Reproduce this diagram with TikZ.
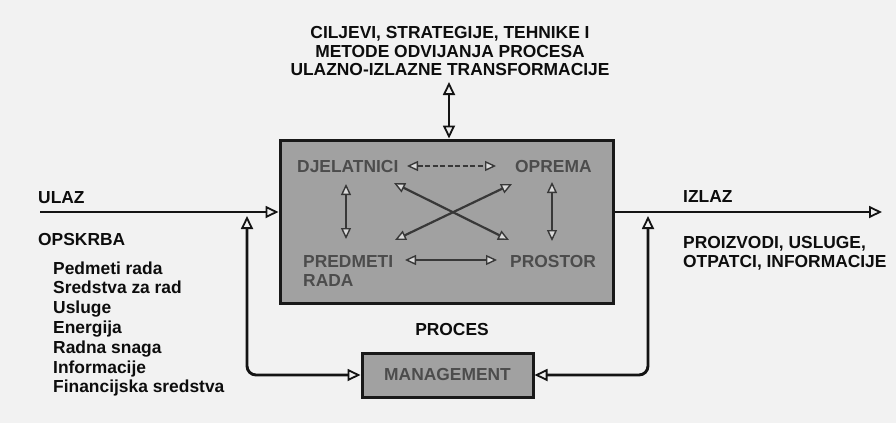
\documentclass[tikz,border=0pt]{standalone}
\usepackage{fontspec}
\setmainfont{Liberation Sans}
\usetikzlibrary{arrows.meta}
\begin{document}
\begin{tikzpicture}[x=1pt,y=-1pt,
  txt/.style={font=\fontsize{17.4}{19}\selectfont\bfseries, inner sep=0pt, text=black!95},
  intxt/.style={txt, text=black!70},
  boxst/.style={draw=black!90, line width=3pt, fill=gray!74},
  flow/.style={line width=2.9pt, draw=black!92, >={Triangle[length=13pt,width=12pt,fill=gray!12,line width=1.8pt]}},
  inflow/.style={line width=2.2pt, draw=black!78, >={Triangle[length=11pt,width=10pt,fill=gray!30,line width=1.4pt]}}
]
\useasboundingbox (0,0) rectangle (896,423);
\fill[gray!10] (0,0) rectangle (896,423);

% boxes
\node[boxst, minimum width=333pt, minimum height=163pt, inner sep=0pt] (proc) at (446.5,221.5) {};
\node[boxst, minimum width=171pt, minimum height=44pt, inner sep=0pt, intxt] (mgmt) at (447.5,375) {MANAGEMENT};

% top text
\node[txt, anchor=base] (t1) at (450,38) {CILJEVI, STRATEGIJE, TEHNIKE I};
\node[txt, anchor=base] (t2) at (450,57) {METODE ODVIJANJA PROCESA};
\node[txt, anchor=base] (t3) at (450,75) {ULAZNO-IZLAZNE TRANSFORMACIJE};

% left texts
\node[txt, anchor=base west] (ulaz) at (38,203) {ULAZ};
\node[txt, anchor=base west] (opskrba) at (38,245) {OPSKRBA};
\foreach \t [count=\i from 0] in {Pedmeti rada, Sredstva za rad, Usluge, Energija, Radna snaga, Informacije, Financijska sredstva}
  \node[txt, anchor=base west] (item\i) at (53,274+19.8*\i) {\t};

% right texts
\node[txt, anchor=base west] (izlaz) at (683,202) {IZLAZ};
\node[txt, anchor=base west] (out1) at (683,248) {PROIZVODI, USLUGE,};
\node[txt, anchor=base west] (out2) at (683,267) {OTPATCI, INFORMACIJE};
\node[txt, anchor=base] (proces) at (452,335) {PROCES};

% inner texts
\node[intxt, anchor=base west] (djel) at (297,172) {DJELATNICI};
\node[intxt, anchor=base west] (oprema) at (515,172) {OPREMA};
\node[intxt, anchor=base west] (pred) at (303,267) {PREDMETI};
\node[intxt, anchor=base west] (rada) at (303,286) {RADA};
\node[intxt, anchor=base west] (prostor) at (510,267) {PROSTOR};

% inner arrows
\coordinate (a1) at (407,166); \coordinate (a2) at (496,166);
\coordinate (b1) at (405,260); \coordinate (b2) at (497,260);
\coordinate (c1) at (346,184); \coordinate (c2) at (346,239);
\coordinate (d1) at (552,182); \coordinate (d2) at (552,241);
\coordinate (e1) at (394,183); \coordinate (e2) at (509,240);
\coordinate (f1) at (395,240); \coordinate (f2) at (512,184);
\draw[inflow,<->,dash pattern=on 5pt off 2.5pt] (a1) -- (a2);
\draw[inflow,<->] (b1) -- (b2);
\draw[inflow,<->] (c1) -- (c2);
\draw[inflow,<->] (d1) -- (d2);
\draw[inflow,<->] (e1) -- (e2);
\draw[inflow,<->] (f1) -- (f2);

% main flows
\coordinate (inS) at (40,212);
\coordinate (outE) at (882,212);
\coordinate (lt) at (247,216);
\coordinate (rt) at (648,216);
\coordinate (tp) at (449,82);
\draw[flow,->] (inS) -- (inS -| proc.west);
\draw[flow,->] (proc.east |- outE) -- (outE);
\draw[flow,<->,rounded corners=9pt] (lt) |- (mgmt.west);
\draw[flow,<->,rounded corners=9pt] (rt) |- (mgmt.east);
\draw[flow,<->] (tp) -- (tp |- proc.north);
\end{tikzpicture}
\end{document}
